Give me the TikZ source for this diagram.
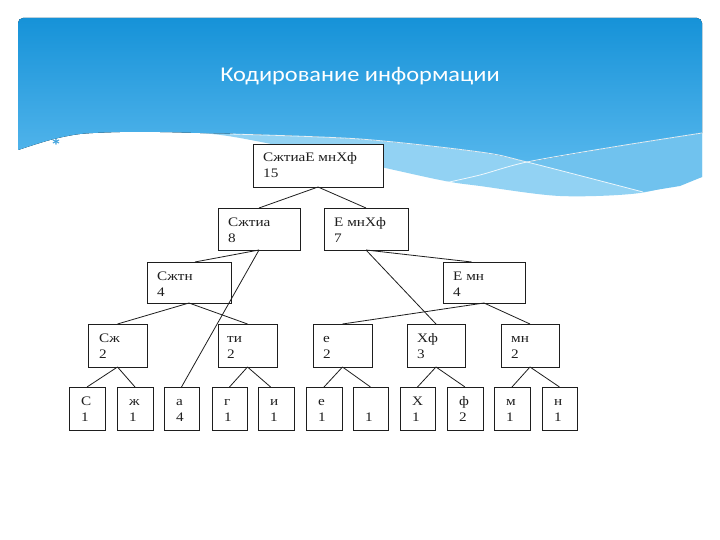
\documentclass[tikz,border=0pt]{standalone}
\usepackage{fontspec}
\setmainfont{Liberation Serif}
\newfontfamily\boxfont[FakeStretch=1.17]{Liberation Serif}
\newfontfamily\titlefont[FakeStretch=1.16]{Carlito}
\usetikzlibrary{calc}
\definecolor{hdtop}{RGB}{22,146,216}
\definecolor{hdbot}{RGB}{84,182,236}
\definecolor{band}{RGB}{146,210,243}
\definecolor{bandmid}{RGB}{112,194,238}
\definecolor{bulc}{RGB}{60,160,220}
\definecolor{ink}{RGB}{30,30,30}
\newcommand\bx[8]{%
  \node[bxs, minimum width=#4pt, minimum height=#5pt, anchor=north west] (#1) at (#2,#3) {};
  \node[lbl, anchor=base west] (#1a) at ({#2+#8},{#3+18}) {#6};
  \node[lbl, anchor=base west] (#1b) at ({#2+#8},{#3+34}) {#7};}
\begin{document}
\begin{tikzpicture}[x=1pt,y=-1pt,
  bxs/.style={draw=ink, line width=0.9pt, fill=white, inner sep=0pt, outer sep=0pt},
  lbl/.style={font={\boxfont\fontsize{13}{15}\selectfont}, text=ink, inner sep=0pt},
  conn/.style={draw=ink, line width=0.8pt},
  wline/.style={draw=white, line width=0.8pt, opacity=0.85}]
\useasboundingbox (0,0) rectangle (720,540);
\fill[white] (0,0) rectangle (720,540);
% header: light band down to page boundary
\fill[band] [rounded corners=5pt] (18,150) -- (18,18) -- (702,18) [sharp corners] -- (702,177)
  -- plot[smooth] coordinates {(702,177) (640,193) (560,196) (480,186) (440,180) (340,158) (240,138) (200,133) (160,132) (120,132) (80,134) (50,140) (18,150)} -- cycle;
% medium region right of crossing
\fill[bandmid] (527,162) -- plot[smooth] coordinates {(527,162) (613,147) (702,133)} -- (702,177)
  -- (680,186) -- plot[smooth] coordinates {(643,192) (527,162)} -- cycle;
% main blue
\fill[top color=hdtop, bottom color=hdbot] [rounded corners=5pt] (18,150) -- (18,18) -- (702,18) [sharp corners] -- (702,133)
  -- plot[smooth] coordinates {(702,133) (613,147) (527,162)}
  -- plot[smooth] coordinates {(527,162) (480,152) (360,139) (240,134) (200,133) (160,132) (120,132) (80,134) (50,140) (18,150)} -- cycle;
\draw[wline] plot[smooth] coordinates {(230,134) (360,139) (480,152) (527,162) (643,192)};
\draw[wline] plot[smooth] coordinates {(440,184) (480,175) (527,162) (613,147) (702,133)};
% title and bullet
\node[font={\titlefont\fontsize{21}{25}\selectfont}, text=white, anchor=base] (title) at (360,82) {Кодирование информации};
\node[font={\titlefont\bfseries\fontsize{19}{20}\selectfont}, text=bulc, inner sep=0pt] (bul) at (56,146) {*};
% boxes
\bx{root}{253}{144}{130}{43}{СжтиаЕ мнХф}{15}{10}
\bx{sa}{218}{208}{82}{42}{Сжтиа}{8}{10}
\bx{emh}{324}{208}{84}{42}{Е мнХф}{7}{10}
\bx{sn}{147}{262}{84}{41}{Сжтн}{4}{10}
\bx{em}{443}{262}{82}{41}{Е мн}{4}{10}
\bx{sz}{88}{324}{59}{43}{Сж}{2}{11}
\bx{ti}{218}{324}{59}{43}{ти}{2}{9}
\bx{ee}{313}{324}{59}{43}{е}{2}{10}
\bx{hf}{407}{324}{58}{43}{Хф}{3}{10}
\bx{mn}{501}{324}{58}{43}{мн}{2}{10}
\bx{lc}{69}{387}{36}{43}{С}{1}{12}
\bx{lz}{117}{387}{36}{43}{ж}{1}{12}
\bx{la}{164}{387}{35}{43}{а}{4}{12}
\bx{lg}{212}{387}{35}{43}{г}{1}{12}
\bx{li}{258}{387}{36}{43}{и}{1}{12}
\bx{le}{306}{387}{36}{43}{е}{1}{12}
\bx{lb}{353}{387}{35}{43}{}{1}{12}
\bx{lx}{400}{387}{35}{43}{Х}{1}{12}
\bx{lf}{447}{387}{36}{43}{ф}{2}{12}
\bx{lm}{494}{387}{36}{43}{м}{1}{12}
\bx{ln}{542}{387}{35}{43}{н}{1}{12}
% connectors
\draw[conn] (root.south) -- (sa.north);
\draw[conn] (root.south) -- (emh.north);
\draw[conn] (sa.south) -- ($(sn.north west)!0.57!(sn.north east)$);
\draw[conn] (sa.south) -- (la.north);
\draw[conn] (emh.south) -- ($(em.north west)!0.35!(em.north east)$);
\draw[conn] (emh.south) -- (hf.north);
\draw[conn] (sn.south) -- (sz.north);
\draw[conn] (sn.south) -- (ti.north);
\draw[conn] (em.south) -- (ee.north);
\draw[conn] (em.south) -- (mn.north);
\draw[conn] (sz.south) -- (lc.north);
\draw[conn] (sz.south) -- (lz.north);
\draw[conn] (ti.south) -- (lg.north);
\draw[conn] (ti.south) -- ($(li.north west)!0.35!(li.north east)$);
\draw[conn] (ee.south) -- (le.north);
\draw[conn] (ee.south) -- (lb.north);
\draw[conn] (hf.south) -- (lx.north);
\draw[conn] (hf.south) -- (lf.north);
\draw[conn] (mn.south) -- (lm.north);
\draw[conn] (mn.south) -- (ln.north);
\end{tikzpicture}
\end{document}
